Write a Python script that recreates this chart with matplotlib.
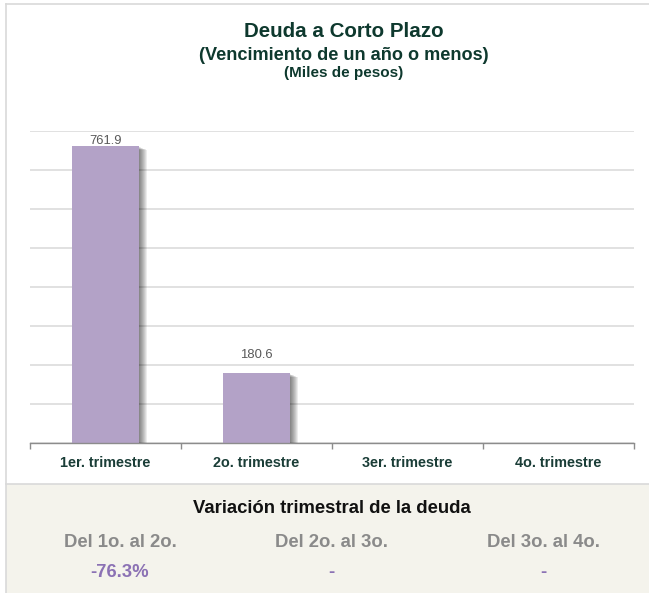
"""Deuda a Corto Plazo: bar chart with quarterly variation panel -> out.png"""
import numpy as np
import matplotlib
matplotlib.use("Agg")
import matplotlib.pyplot as plt
from matplotlib import patheffects as pe
from matplotlib.patches import Rectangle
from matplotlib.lines import Line2D

plt.rcParams.update({"font.family": ["Liberation Sans", "DejaVu Sans"]})

TITLE = "Deuda a Corto Plazo"
SUBTITLE = "(Vencimiento de un año o menos)"
UNITS = "(Miles de pesos)"
QUARTERS = ["1er. trimestre", "2o. trimestre", "3er. trimestre", "4o. trimestre"]
DEBT = [761.9, 180.6, np.nan, np.nan]
PANEL_TITLE = "Variación trimestral de la deuda"
PERIODS = ["Del 1o. al 2o.", "Del 2o. al 3o.", "Del 3o. al 4o."]
CHANGES = ["-76.3%", "-", "-"]

LAV, GRID, AXIS = "#b3a2c7", "#d9d9d9", "#8c8c8c"
DKGREEN, TEAL, GREY, PURPLE, BEIGE = "#0e392e", "#1a3d37", "#8a8a8a", "#8b71b4", "#f4f3ec"

W, H = 649, 593
fx = lambda px: px / W
fy = lambda py: 1 - py / H
fig = plt.figure(figsize=(W / 100, H / 100), dpi=100)

# frame + bottom panel
fig.add_artist(Rectangle((fx(6), 0), 1 - fx(6), fy(484), transform=fig.transFigure,
                         facecolor=BEIGE, edgecolor="none", zorder=0))
for xs, ys in (([fx(6), 1], [fy(484)] * 2), ([fx(6), 1], [fy(4)] * 2), ([fx(6)] * 2, [0, fy(4)])):
    fig.add_artist(Line2D(xs, ys, transform=fig.transFigure, color=GRID, lw=1.2))

# bars (soft drop shadow built from stacked offset copies)
ax = fig.add_axes([fx(30), fy(443.3), fx(634) - fx(30), fy(130.7) - fy(443.3)])
x = np.arange(len(QUARTERS)); vals = np.array(DEBT); ok = ~np.isnan(vals)
shadow = [pe.SimplePatchShadow(offset=(0.72 * d, -0.72 * (1 + 0.4 * d)), shadow_rgbFace="k", alpha=0.075)
          for d in range(1, 9)] + [pe.Normal()]
ax.bar(x[ok], vals[ok], 0.44, color=LAV, zorder=3, path_effects=shadow)
ax.set_xlim(-0.5, len(QUARTERS) - 0.5); ax.set_ylim(0, 800)
ax.set_yticks(np.arange(0, 801, 100)); ax.tick_params(axis="y", length=0, labelleft=False)
ax.yaxis.grid(True, color=GRID, lw=1.1); ax.set_axisbelow(True)
for sp in ("top", "right", "left"): ax.spines[sp].set_visible(False)
ax.spines["bottom"].set_color(AXIS); ax.spines["bottom"].set_linewidth(1); ax.spines["bottom"].set_zorder(4)
ax.set_xticks(np.arange(-0.5, len(QUARTERS))); ax.set_xticklabels([])
ax.tick_params(axis="x", which="major", length=4, color=AXIS, width=1)
ax.set_xticks(x, minor=True)
ax.set_xticklabels(QUARTERS, minor=True, fontsize=10.4, weight="bold", color=TEAL)
ax.tick_params(axis="x", which="minor", length=0, pad=9.5)

# value labels: keep inside plot area like the original
ppu = ax.get_position().height * H / 800  # px per data unit
for xi, v in zip(x[ok], vals[ok]):
    room = (800 - v) * ppu
    off = min(14.4, room - 13.3)
    ax.annotate(f"{v:.1f}", (xi, v), xytext=(0, off * 0.72), textcoords="offset points",
                ha="center", va="baseline", fontsize=9.4, color="#595959")

# titles
fig.text(fx(344), fy(36.7), TITLE, ha="center", va="baseline", fontsize=14.8, weight="bold", color=DKGREEN)
fig.text(fx(344), fy(60), SUBTITLE, ha="center", va="baseline", fontsize=13.1, weight="bold", color=DKGREEN)
fig.text(fx(344), fy(77), UNITS, ha="center", va="baseline", fontsize=11, weight="bold", color=DKGREEN)

# variation panel
fig.text(fx(332), fy(513.3), PANEL_TITLE, ha="center", va="baseline", fontsize=13.3, weight="bold", color="#111111")
cols = [120, 331, 543]
for cx, p, c in zip(cols, PERIODS, CHANGES):
    fig.text(fx(cx), fy(546.7), p, ha="center", va="baseline", fontsize=13.3, weight="bold", color=GREY)
    fig.text(fx(cx), fy(577.3), c, ha="center", va="baseline", fontsize=13.3, weight="bold", color=PURPLE)

fig.savefig("out.png", dpi=100, facecolor="white")
